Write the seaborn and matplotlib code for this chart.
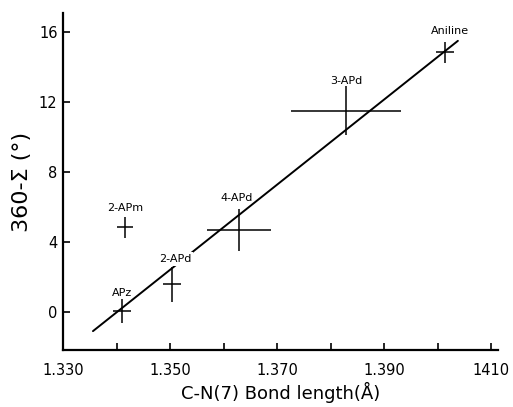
import matplotlib
matplotlib.use("Agg")
import matplotlib.pyplot as plt
import seaborn as sns
import pandas as pd

# data
compounds = ["APz", "2-APm", "2-APd", "4-APd", "3-APd", "Aniline"]
bond_length = [1.3410, 1.3416, 1.3504, 1.3629, 1.3829, 1.4014]
angle_def = [0.06, 4.86, 1.6, 4.69, 11.5, 14.86]
bond_err = [0.0017, 0.0015, 0.0017, 0.0059, 0.0103, 0.0017]
angle_err = [0.7, 0.6, 1.0, 1.2, 1.4, 0.6]
fit_x = [1.3356, 1.4038]
fit_y = [-1.09, 15.5]
x_ticks = [1.330, 1.350, 1.370, 1.390, 1.410]
x_tick_labels = ["1.330", "1.350", "1.370", "1.390", "1410"]
x_minor = [1.340, 1.360, 1.380, 1.400]
y_ticks = [0, 4, 8, 12, 16]

df = pd.DataFrame({"x": bond_length, "y": angle_def, "xe": bond_err,
                   "ye": angle_err, "name": compounds})
fit = pd.DataFrame({"x": fit_x, "y": fit_y})

sns.set_style("ticks")
plt.rcParams["font.family"] = ["DejaVu Sans"]
for k in ["text.color", "axes.labelcolor", "xtick.color", "ytick.color", "axes.edgecolor"]:
    plt.rcParams[k] = "black"

fig = plt.figure(figsize=(5.13, 4.07), dpi=100)
ax = fig.add_axes([0.1228, 0.140, 0.848, 0.828])

sns.lineplot(data=fit, x="x", y="y", ax=ax, color="black", lw=1.4, zorder=1)
ax.errorbar(df["x"], df["y"], xerr=df["xe"], yerr=df["ye"], fmt="none",
            ecolor="black", elinewidth=1.1, capsize=0, zorder=2)

label_off = {"APz": (0.0, 0.75), "2-APm": (0.0, 0.8), "2-APd": (0.0005, 1.15),
             "4-APd": (-0.0004, 1.55), "3-APd": (0.0, 1.4), "Aniline": (0.0009, 0.9)}
for _, r in df.iterrows():
    dx, dy = label_off[r["name"]]
    bb = None
    if r["name"] == "2-APd":
        bb = dict(facecolor="white", edgecolor="none", pad=1.2)
    ax.text(r["x"] + dx, r["y"] + dy, r["name"], ha="center", va="bottom",
            fontsize=8, zorder=3, bbox=bb)

ax.set_xlim(1.330, 1.4113)
ax.set_ylim(-2.17, 17.09)
ax.set_xticks(x_ticks)
ax.set_xticklabels(x_tick_labels)
ax.set_xticks(x_minor, minor=True)
ax.set_yticks(y_ticks)
ax.tick_params(axis="both", which="both", direction="in", width=1.2, labelsize=10.5)
ax.tick_params(axis="x", which="major", length=5, pad=9)
ax.tick_params(axis="x", which="minor", length=5)
ax.tick_params(axis="y", length=5, pad=4)
sns.despine(ax=ax)
for s in ["left", "bottom"]:
    ax.spines[s].set_linewidth(1.6)

ax.set_xlabel("C-N(7) Bond length(Å)", fontsize=13, labelpad=3)
ax.set_ylabel("360-Σ (°)", fontsize=16, labelpad=5)

fig.savefig("out.png", dpi=100)
